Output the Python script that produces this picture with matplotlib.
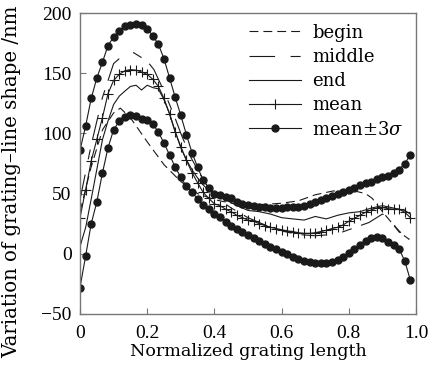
import numpy as np
import matplotlib
matplotlib.use("Agg")
import matplotlib.pyplot as plt

plt.rcParams['font.family'] = ['Liberation Serif', 'DejaVu Serif']
plt.rcParams['mathtext.fontset'] = 'dejavuserif'

# sample positions of the statistics curves
x_stat = np.arange(60) / 60.0

upper = [86, 106, 129, 146, 159, 173, 180, 185, 189, 190,
         191, 190, 187, 181, 174, 162, 146, 130, 115, 99,
         84, 72, 61, 55, 50, 49, 47, 46, 43, 41.5,
         40.5, 40, 39, 38.5, 38, 38, 38, 38.5, 39, 39,
         40, 41.5, 43, 45, 46.5, 48, 49.5, 51, 53, 55,
         57, 58.5, 60, 62, 63.5, 65, 67, 70, 75, 82]

lower = [-28, -2, 25, 43, 67, 88, 103, 110, 114, 115,
         114.5, 112, 111, 108, 101, 92, 82, 72, 63.5, 56,
         51, 45.5, 40.5, 37.5, 33, 30.5, 26.5, 23.5, 20.5, 18,
         16, 13.5, 10.5, 8.5, 6, 4, 1.5, -0.5, -2.5, -4.5,
         -6, -7, -7.5, -8, -7.5, -6.5, -5, -2.5, 1, 4,
         7.5, 10.5, 13, 14, 13.5, 10, 7.5, 4, -6, -22]

mean = [30, 53, 77, 95, 113, 133, 144, 149, 152, 153,
        152.5, 151, 149, 145, 139, 129, 116, 101, 89, 77.5,
        67.5, 59, 51, 46, 41.5, 40, 37, 35, 32, 30,
        28, 27, 25, 23.5, 22, 21, 20, 19, 18.5, 17.5,
        17, 17, 17.5, 18.5, 19.5, 21, 22, 24, 27, 29.5,
        32, 34.5, 36.5, 38, 38.5, 37.5, 37, 37, 34.5, 30]

begin_x = [0, 0.033, 0.067, 0.1, 0.12, 0.15, 0.2, 0.25, 0.3, 0.35, 0.4, 0.45,
           0.5, 0.55, 0.6, 0.65, 0.7, 0.75, 0.78, 0.82, 0.85, 0.87, 0.9,
           0.93, 0.95, 0.98]
begin_y = [35, 72, 103, 117, 121, 113, 93, 74, 60, 50, 45, 42,
           41, 41, 42, 44, 49, 52, 53, 52, 50, 46, 35,
           25, 18, 12]

middle_x = [0, 0.033, 0.067, 0.1, 0.133, 0.16, 0.2, 0.22, 0.25, 0.28, 0.3,
            0.33, 0.37, 0.4, 0.45, 0.5, 0.55, 0.6, 0.65, 0.7, 0.75, 0.78,
            0.82, 0.86, 0.9, 0.92, 0.94, 0.96, 0.98]
middle_y = [45, 90, 130, 158, 166, 167, 160, 153, 135, 115, 100,
            80, 60, 48, 38, 30, 24, 19, 16, 15, 16, 18,
            22, 26, 33, 30, 22, 16, 12]

end_x = [0, 0.017, 0.033, 0.05, 0.067, 0.083, 0.1, 0.117, 0.133, 0.15, 0.167,
         0.183, 0.2, 0.217, 0.233, 0.25, 0.267, 0.283, 0.3, 0.317, 0.333,
         0.35, 0.367, 0.383, 0.4, 0.433, 0.467, 0.5, 0.533, 0.567, 0.6,
         0.633, 0.667, 0.7, 0.733, 0.767, 0.8, 0.833, 0.867, 0.9, 0.933,
         0.967, 0.983]
end_y = [6, 22, 45, 70, 95, 110, 124, 131, 135, 139, 140,
         136, 140, 138, 137, 128, 116, 102, 88, 78, 70,
         63, 57, 53, 50, 45, 40, 36, 35, 33, 30,
         29, 28, 31, 29, 32, 34, 35, 38, 40, 38,
         36, 33]

fig = plt.figure(figsize=(4.37, 3.68), dpi=100)
ax = fig.add_axes([80/437, 1-314/368, 336/437, 301/368])

lc = '#1a1a1a'
ax.plot(begin_x, begin_y, color=lc, lw=0.8, dashes=(8, 4.5), label='begin')
ax.plot(middle_x, middle_y, color=lc, lw=0.8, dashes=(23, 14, 9, 9), label='middle')
ax.plot(end_x, end_y, color=lc, lw=0.8, label='end')
ax.plot(x_stat, mean, color=lc, lw=0.8, marker='+', ms=7, mew=0.8, label='mean')
ax.plot(x_stat, upper, color=lc, lw=0.8, marker='o', ms=5, label=r'mean$\pm3\sigma$')
ax.plot(x_stat, lower, color=lc, lw=0.8, marker='o', ms=5)

ax.set_xlim(0, 1.0)
ax.set_ylim(-50, 200)
ax.set_xticks([0, 0.2, 0.4, 0.6, 0.8, 1.0])
ax.set_xticklabels(['0', '0.2', '0.4', '0.6', '0.8', '1.0'])
ax.set_yticks([-50, 0, 50, 100, 150, 200])
ax.tick_params(direction='in', length=4, width=0.8, color='#777777', labelsize=14,
               top=False, right=False)
ax.tick_params(axis='x', pad=8)
ax.tick_params(axis='y', pad=6)
for s in ax.spines.values():
    s.set_color('#777777')
    s.set_linewidth(1.0)

ax.set_xlabel('Normalized grating length', fontsize=12.6, family='DejaVu Serif',
              labelpad=1)
ax.set_ylabel('Variation of grating\u2013line shape /nm', fontsize=14.2,
              family='DejaVu Serif')
ax.yaxis.set_label_coords(-0.175, 0.44)

ax.legend(loc='upper left', bbox_to_anchor=(0.503, 0.965), frameon=False,
          prop={'family': 'DejaVu Serif', 'size': 13},
          numpoints=1, handlelength=2.9, handletextpad=0.6, labelspacing=0.35,
          borderaxespad=0, borderpad=0)

fig.savefig('out.png', dpi=100)
